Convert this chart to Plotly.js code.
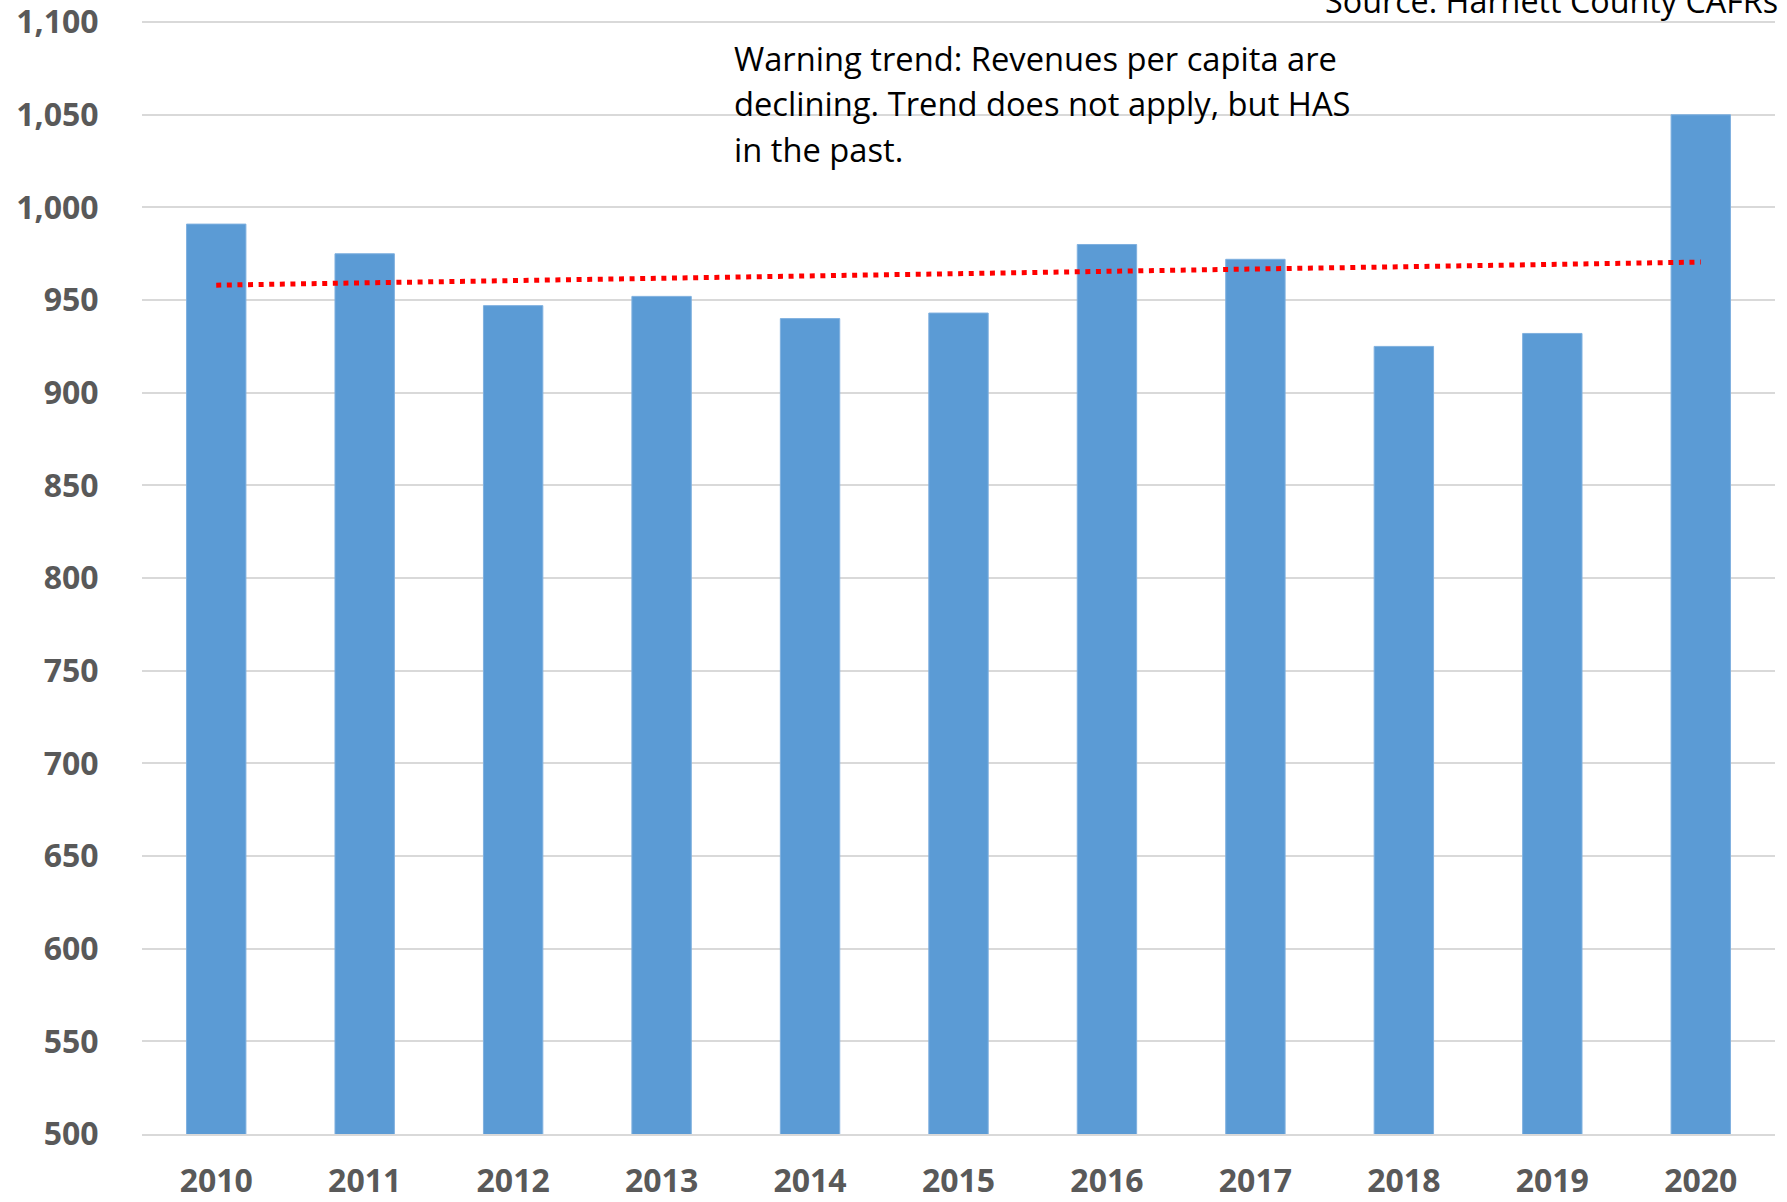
<!DOCTYPE html>
<html>
<head>
<meta charset="utf-8">
<script src="https://cdn.plot.ly/plotly-3.0.1.min.js"></script>
<style>
  html, body { margin: 0; padding: 0; background: #ffffff; }
  #chart { width: 1787px; height: 1202px; }
</style>
</head>
<body>
<div id="chart"></div>
<script>
// ---- data ----
const years = ["2010", "2011", "2012", "2013", "2014", "2015", "2016", "2017", "2018", "2019", "2020"];
const revenuesPerCapita = [991, 975, 947, 952, 940, 943, 980, 972, 925, 932, 1050];
const yTickValues = [500, 550, 600, 650, 700, 750, 800, 850, 900, 950, 1000, 1050, 1100];
const sourceText = "Source: Harnett County CAFRs";
const noteLines = [
  "Warning trend: Revenues per capita are",
  "declining. Trend does not apply, but HAS",
  "in the past."
];

// linear trendline (least squares) computed from the bar values
const n = revenuesPerCapita.length;
const idx = revenuesPerCapita.map((_, i) => i + 1);
const mx = idx.reduce((a, b) => a + b, 0) / n;
const my = revenuesPerCapita.reduce((a, b) => a + b, 0) / n;
let sxy = 0, sxx = 0;
idx.forEach((x, i) => { sxy += (x - mx) * (revenuesPerCapita[i] - my); sxx += (x - mx) * (x - mx); });
const slope = sxy / sxx;
const intercept = my - slope * mx;
const trend = idx.map(x => intercept + slope * x);

const tickFont = { family: "'Open Sans', sans-serif", size: 32, color: "#595959", weight: 700 };
const noteFont = { family: "'Open Sans', sans-serif", size: 32.7, color: "#000000" };
const sourceFont = { family: "'Open Sans', sans-serif", size: 32.3, color: "#000000" };

const traces = [
  {
    type: "bar",
    x: years,
    y: revenuesPerCapita,
    marker: { color: "#5b9bd5", line: { color: "#7fb0df", width: 1 } },
    hoverinfo: "x+y",
    showlegend: false
  },
  {
    type: "scatter",
    mode: "lines",
    x: years,
    y: trend,
    line: { color: "#ff0000", width: 5, dash: "5px,5.6px" },
    hoverinfo: "skip",
    showlegend: false
  }
];

const plotTop = 21;
const plotH = 1202 - plotTop - 68;
function paperYFromPx(px) { return 1 - (px - plotTop) / plotH; }

const noteAnnotations = noteLines.map((line, i) => ({
  text: line,
  xref: "paper", yref: "paper",
  x: 0.361, y: paperYFromPx(58 + i * 45.6),
  xanchor: "left", yanchor: "middle",
  align: "left",
  showarrow: false,
  font: noteFont
}));

const layout = {
  width: 1787,
  height: 1202,
  margin: { l: 142, r: 12, t: plotTop, b: 68, pad: 0 },
  paper_bgcolor: "#ffffff",
  plot_bgcolor: "#ffffff",
  bargap: 0.6,
  showlegend: false,
  xaxis: {
    type: "category",
    tickfont: tickFont,
    showgrid: false,
    showline: true,
    linecolor: "#d9d9d9",
    linewidth: 2,
    ticks: "outside",
    ticklen: 18,
    tickcolor: "rgba(0,0,0,0)",
    zeroline: false,
    fixedrange: true
  },
  yaxis: {
    range: [500, 1100.6],
    tickvals: yTickValues,
    tickformat: ",d",
    tickfont: tickFont,
    ticklabeloverflow: "allow",
    showgrid: true,
    gridcolor: "#d9d9d9",
    gridwidth: 2,
    showline: false,
    zeroline: false,
    ticks: "outside",
    ticklen: 36,
    tickcolor: "rgba(0,0,0,0)",
    fixedrange: true
  },
  annotations: [
    {
      text: sourceText,
      xref: "paper", yref: "paper",
      x: 1.003, y: paperYFromPx(24),
      xanchor: "right", yanchor: "bottom",
      showarrow: false,
      font: sourceFont
    }
  ].concat(noteAnnotations)
};

Plotly.newPlot("chart", traces, layout, { displayModeBar: false, staticPlot: true });
</script>
</body>
</html>
